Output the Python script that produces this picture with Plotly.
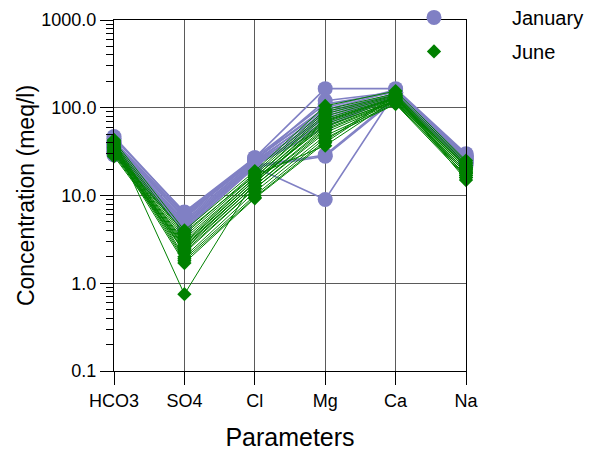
import plotly.graph_objects as go

params = ["HCO3", "SO4", "Cl", "Mg", "Ca", "Na"]

jan_HCO3 = [45, 40, 38, 35, 33, 31, 30, 42, 36, 34, 29, 37, 39, 32, 47]
jan_SO4 = [6.5, 6.0, 5.5, 5.0, 4.8, 4.5, 4.2, 6.2, 5.2, 4.6, 4.0, 5.8, 5.6, 4.4, 6.4]
jan_Cl = [27, 25, 24, 23, 22, 22, 21, 26, 24, 23, 21, 25, 27, 22, 26]
jan_Mg = [165, 120, 90, 80, 70, 29, 9, 100, 75, 65, 28, 85, 110, 60, 95]
jan_Ca = [165, 150, 145, 140, 135, 130, 150, 160, 140, 130, 125, 145, 150, 135, 155]
jan_Na = [30, 28, 27, 26, 25, 24, 22, 29, 26, 25, 23, 27, 28, 24, 29]

jun_HCO3 = [42, 40, 38, 36, 35, 34, 33, 32, 31, 30, 29, 28, 41, 39, 37, 35, 33, 31, 30, 43]
jun_SO4 = [4.0, 3.6, 3.4, 3.2, 3.0, 2.9, 2.8, 2.7, 2.6, 2.5, 2.4, 2.3, 2.2, 2.0, 1.9, 1.8, 1.7, 3.8, 2.6, 0.75]
jun_Cl = [19, 18, 17, 16, 16, 15, 15, 14, 14, 13, 13, 12, 12, 11, 10, 9.5, 9.3, 17, 14, 15]
jun_Mg = [105, 95, 90, 85, 80, 75, 72, 68, 65, 60, 57, 55, 52, 48, 45, 42, 40, 37, 70, 62]
jun_Ca = [155, 145, 140, 138, 135, 132, 130, 128, 125, 122, 120, 118, 115, 112, 110, 140, 135, 125, 130, 120]
jun_Na = [25, 24, 23, 22, 21, 21, 20, 20, 19, 19, 18, 18, 17, 17, 16, 16, 15, 22, 20, 18]

y_tickvals = [0.1, 1, 10, 100, 1000]
y_ticktext = ["0.1", "1.0", "10.0", "100.0", "1000.0"]

JAN_COLOR = "#8080C4"
JUN_COLOR = "#008000"


def build(cols):
    xs, ys = [], []
    for i in range(len(cols[0])):
        for p, c in zip(params, cols):
            xs.append(p)
            ys.append(c[i])
        xs.append(None)
        ys.append(None)
    return xs, ys


jan_x, jan_y = build([jan_HCO3, jan_SO4, jan_Cl, jan_Mg, jan_Ca, jan_Na])
jun_x, jun_y = build([jun_HCO3, jun_SO4, jun_Cl, jun_Mg, jun_Ca, jun_Na])

fig = go.Figure()
fig.add_trace(go.Scatter(x=jan_x, y=jan_y, mode="lines", line=dict(color=JAN_COLOR, width=1.6),
                         showlegend=False, hoverinfo="skip", cliponaxis=False))
fig.add_trace(go.Scatter(x=jan_x, y=jan_y, mode="markers", name="January", legendgroup="a",
                         marker=dict(symbol="circle", size=15, color=JAN_COLOR),
                         cliponaxis=False))
fig.add_trace(go.Scatter(x=jun_x, y=jun_y, mode="lines", line=dict(color=JUN_COLOR, width=1),
                         showlegend=False, hoverinfo="skip", cliponaxis=False))
fig.add_trace(go.Scatter(x=jun_x, y=jun_y, mode="markers", name="June", legendgroup="b",
                         marker=dict(symbol="diamond", size=11, color=JUN_COLOR),
                         cliponaxis=False))

minor_vals = [m * 10 ** e for e in range(-1, 3) for m in range(2, 10)]

font_family = "Liberation Sans, Arial, sans-serif"
GRID = "#5a5a5a"

fig.update_layout(
    width=597, height=451,
    margin=dict(l=114, r=131, t=20, b=80, autoexpand=False),
    plot_bgcolor="white", paper_bgcolor="white",
    font=dict(family=font_family, color="black", size=18),
    legend=dict(x=0.6875, y=1.063, xanchor="left", yanchor="top", xref="paper", yref="paper",
                font=dict(size=20), itemwidth=146, tracegroupgap=5,
                bgcolor="rgba(0,0,0,0)", traceorder="grouped"),
    xaxis=dict(
        type="category", categoryorder="array", categoryarray=params,
        range=[0, 5], showgrid=True, gridcolor=GRID, gridwidth=1,
        showline=True, linecolor="black", linewidth=1, mirror=True,
        ticks="outside", ticklen=13, tickcolor="black",
        tickfont=dict(size=18), zeroline=False,
        title=dict(text="Parameters", font=dict(size=25), standoff=19),
    ),
    yaxis=dict(
        type="log", range=[-1, 3],
        tickmode="array", tickvals=y_tickvals, ticktext=y_ticktext,
        showgrid=True, gridcolor=GRID, gridwidth=1,
        showline=True, linecolor="black", linewidth=1, mirror=True,
        ticks="outside", ticklen=13, tickcolor="black",
        tickfont=dict(size=18), zeroline=False,
        minor=dict(tickmode="array", tickvals=minor_vals, ticks="outside", ticklen=7,
                   tickcolor="black", showgrid=False),
        title=dict(text="Concentration (meq/l)", font=dict(size=23), standoff=0),
    ),
)

fig.write_html("out.html")
